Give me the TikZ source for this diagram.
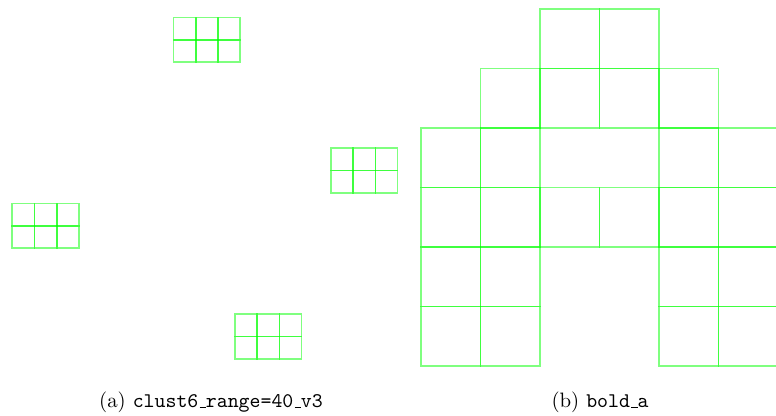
\documentclass[tikz,border=0pt]{standalone}
\newcommand\lowbar{\leavevmode\kern.06em\vbox{\hrule width.3em}}
\tikzset{
  cellbox/.style={draw=green, draw opacity=0.5, line width=0.85pt},
  captxt/.style={inner sep=0pt, anchor=base}
}
\begin{document}
\begin{tikzpicture}[x=0.48pt, y=-0.48pt]
\useasboundingbox (0,0) rectangle (776,416);
\clip (0,0) rectangle (776,416);
% small grids (3x2)
\foreach \ox/\oy in {173.5/17.5, 12.3/203.5, 331/148.3, 235/314.3}{
  \foreach \i in {0,1,2}{
    \foreach \j in {0,1}{
      \draw[cellbox] (\ox+\i*22.2,\oy+\j*22.2) rectangle ++(22.2,22.2);
    }
  }
}
% big grid (letter a)
\foreach \c/\r in {2/0,3/0,
                   1/1,2/1,3/1,4/1,
                   0/2,1/2,4/2,5/2,
                   0/3,1/3,2/3,3/3,4/3,5/3,
                   0/4,1/4,4/4,5/4,
                   0/5,1/5,4/5,5/5}{
  \draw[cellbox] (421+\c*59.5,9+\r*59.5) rectangle ++(59.5,59.5);
}
\node[captxt] (capa) at (211,408) {(a) \texttt{clust6\lowbar range=40\lowbar v3}};
\node[captxt] (capb) at (600,408) {(b) \texttt{bold\lowbar a}};
\end{tikzpicture}
\end{document}
